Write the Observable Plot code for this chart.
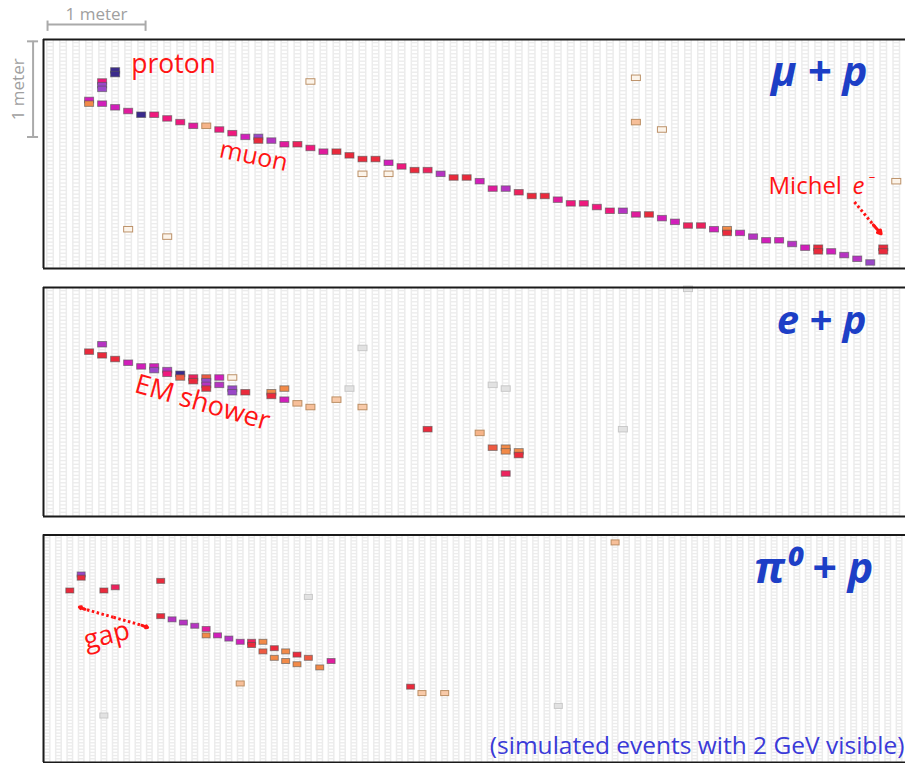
<!DOCTYPE html>
<html><head><meta charset="utf-8">
<script src="https://cdn.jsdelivr.net/npm/d3@7"></script>
<script src="https://cdn.jsdelivr.net/npm/@observablehq/plot@0.6"></script>
<style>
html,body{margin:0;padding:0;background:#fff;overflow:hidden;}
#chart{position:relative;width:905px;height:763px;}
#chart svg{display:block;}
</style></head><body><div id="chart"></div>
<script>
// Each hit: [plane column, cell, charge level]
// charge level: -1 faint, 0 tan, 1 orange, 2 red, 3 pink, 4 magenta, 5 purple, 6 navy
const muHits = [
  [5,8,6],[5,9,6],[4,11,3],[4,12,5],[4,13,5],
  [3,16,4],[3,17,1],
  [4,17,4],[5,18,4],[6,19,3.5],[7,20,6],[8,20,3],[9,21,3],[10,22,3],[11,23,3.5],[12,23,0.6],
  [13,24,3],[14,25,3],[15,26,4],[16,26,5],[16,27,2],[17,27,4.5],[18,28,3.5],[19,28,2.5],
  [20,29,3],[21,30,3.5],[22,30,2],[23,31,2],[24,32,2],[25,32,2],[26,33,4],[27,34,3],
  [28,35,2],[29,35,2.5],[30,36,4.5],[31,37,2],[32,37,2],[33,38,4],[34,40,3.5],[35,40,4.5],
  [36,41,2.5],[37,42,2],[38,42,2],[39,43,3.5],[40,44,3],[41,44,3],[42,45,3],[43,46,3],
  [44,46,4.5],[45,47,3.5],[46,47,2],[47,48,4],[48,49,4],[49,50,2.5],[50,50,2.5],[51,51,4],
  [52,51,1],[52,52,2],[53,52,4],[54,53,4.5],[55,54,4],[56,54,4],[57,55,4.5],[58,56,4],
  [59,56,2],[59,57,2],[60,57,4],[61,58,4.5],[62,59,4.5],[63,60,5],
  [64,56,2],[64,57,2],
  [20,11,0],[6,51,0],[9,53,0],[24,36,0],[26,36,0],[45,10,0],[45,22,0.5],[47,24,0],[65,38,0]
];
const eHits = [
  [3,17,2],[4,15,4.5],[4,18,2],[5,19,2],[6,20,4],[7,21,4],[8,21,4],[8,22,5],
  [9,22,4.5],[9,23,3],[10,23,6],[10,24,1.5],[11,24,2.5],[11,25,2],
  [12,24,1.5],[12,25,5],[12,26,4.5],[12,27,2],[13,24,4],[13,26,4.5],
  [14,24,0],[14,27,5],[14,28,5],[15,28,2],[17,28,1],[17,29,2],[18,27,1],[18,30,4],
  [19,31,0.5],[20,32,0.5],[22,30,0.4],[24,32,0.4],
  [29,38,2],[33,39,0.6],[34,43,1.5],[35,43,1],[35,44,1],[36,44,1],[36,45,2],[35,50,2.5],
  [24,16,-1],[23,27,-1],[34,26,-1],[35,27,-1],[44,38,-1],[49,0,-1]
];
const pi0Hits = [
  [2,17,2],[3,12,5],[3,13,2],[5,17,2],[6,16,2.5],[10,14,2],
  [10,25,2],[11,26,4.5],[12,27,4.5],[13,28,4.5],[14,29,3.5],[14,31,1],[15,31,4],
  [16,32,4.5],[17,33,4],[18,33,2.5],[18,34,2],[19,33,1],[19,36,1.5],[20,35,2],[20,38,1],
  [21,36,1],[21,39,1],[22,37,2],[22,40,1],[23,38,1.5],[24,41,1],[25,39,3.5],
  [17,46,0.5],[50,2,0.5],[32,47,2],[33,49,0.4],[35,49,0.4],
  [23,19,-1],[45,53,-1],[5,56,-1]
];
const chargeLevels = [0, 1, 2, 3, 4, 5, 6];
const chargeColors = ["#fcf4ea", "#f28a48", "#ea2a3c", "#f0197e", "#d21fbb", "#9a48c8", "#3a2a8c"];

const FONT = "'Open Sans', Lato, sans-serif";
const RED = "#ff1414";
const BLUE = "#1d3fc6";

function panel(cfg) {
  const cols = d3.range(cfg.nCols);
  const slots = d3.cross(cols, d3.range(cfg.nCells)).map(([c, r]) => ({c, r}));
  const hits = cfg.hits.map(([c, r, q]) => ({c, r, q}));
  const sIn = (cfg.pitch - cfg.stripW) / 2;
  const wIn = (cfg.pitch - cfg.stripW + 3) / 2;
  const hIn = (cfg.pitch - cfg.hitW) / 2;
  const hitRect = {x1: d => d.c - 0.5, x2: d => d.c + 0.5, y1: d => d.r, y2: d => d.r + 1,
    insetLeft: hIn, insetRight: hIn, insetTop: -0.9, insetBottom: -0.9, strokeWidth: 1};
  return Plot.plot({
    width: 905, height: cfg.height,
    marginLeft: 43, marginRight: 0, marginTop: cfg.marginTop, marginBottom: cfg.marginBottom,
    x: {domain: cfg.xDomain, axis: null},
    y: {domain: [0, cfg.nCells], reverse: true, axis: null},
    color: {type: "linear", domain: chargeLevels, range: chargeColors, interpolate: "rgb"},
    style: {background: "white", overflow: "visible"},
    marks: [
      Plot.rect(cols, {x1: c => c - 0.5, x2: c => c + 0.5, y1: 0, y2: cfg.nCells, insetLeft: sIn, insetRight: sIn, fill: "#ececec"}),
      Plot.rect(slots, {x1: d => d.c - 0.5, x2: d => d.c + 0.5, y1: d => d.r, y2: d => d.r + 1, insetLeft: wIn, insetRight: wIn, insetTop: 0.7, insetBottom: 0.7, fill: "white"}),
      Plot.rect(hits.filter(d => d.q < 0), {...hitRect, fill: "#e2e2e2", stroke: "#c8c8c8"}),
      Plot.rect(hits.filter(d => d.q >= 0 && d.q < 1), {...hitRect, fill: "q", stroke: "#b5865a", strokeOpacity: 0.9}),
      Plot.rect(hits.filter(d => d.q >= 1), {...hitRect, fill: "q", stroke: "#555", strokeOpacity: 0.6}),
      Plot.ruleY([0, cfg.nCells], {stroke: "#1a1a1a", strokeWidth: 2}),
      Plot.ruleX([cfg.xDomain[0]], {stroke: "#1a1a1a", strokeWidth: 2}),
      ...cfg.extra
    ]
  });
}

// Panel 1: mu + p
const muPanel = panel({
  hits: muHits, nCols: 66, nCells: 62, pitch: 13.02, stripW: 8, hitW: 9,
  xDomain: [-0.54, 65.67], height: 277, marginTop: 39, marginBottom: 9,
  extra: [
    // 1 meter scale bars
    Plot.ruleY([{y: -4.06, x1: -0.23, x2: 7.3}], {y: "y", x1: "x1", x2: "x2", stroke: "#aaa", strokeWidth: 2}),
    Plot.ruleX([-0.23, 7.3], {y1: -5.0, y2: -2.2, stroke: "#aaa", strokeWidth: 2}),
    Plot.text(["1 meter"], {x: 3.53, y: -5.2, lineAnchor: "bottom", fontSize: 17, fill: "#a0a0a0", fontFamily: FONT}),
    Plot.ruleX([{x: -1.34, y1: 0.5, y2: 26.4}], {x: "x", y1: "y1", y2: "y2", stroke: "#aaa", strokeWidth: 2}),
    Plot.ruleY([0.5, 26.4], {x1: -1.77, x2: -0.92, stroke: "#aaa", strokeWidth: 2}),
    Plot.text(["1 meter"], {x: -2.45, y: 13.5, rotate: -90, fontSize: 17, fill: "#a0a0a0", fontFamily: FONT}),
    // labels
    Plot.text(["proton"], {x: 6.2, y: 9.0, textAnchor: "start", lineAnchor: "bottom", fontSize: 26.5, fill: RED, fontFamily: FONT}),
    Plot.text(["muon"], {x: 15.6, y: 31.6, rotate: 12, fontSize: 25, fill: RED, fontFamily: FONT}),
    Plot.text(["Michel"], {x: 55.15, y: 41.7, textAnchor: "start", lineAnchor: "bottom", fontSize: 24, fill: RED, fontFamily: FONT}),
    Plot.text(["e"], {x: 61.6, y: 41.7, textAnchor: "start", lineAnchor: "bottom", fontSize: 24, fontStyle: "italic", fill: RED, fontFamily: FONT}),
    Plot.text(["\u2013"], {x: 62.85, y: 38.4, textAnchor: "start", lineAnchor: "bottom", fontSize: 13, fill: RED, fontFamily: FONT}),
    Plot.link([{x1: 61.75, y1: 44.0, x2: 63.3, y2: 50.6}], {x1: "x1", y1: "y1", x2: "x2", y2: "y2", stroke: RED, strokeWidth: 3, strokeDasharray: "2.5,2.5"}),
    Plot.arrow([{x1: 63.2, y1: 50.2, x2: 63.8, y2: 52.6}], {x1: "x1", y1: "y1", x2: "x2", y2: "y2", stroke: RED, strokeWidth: 3, headLength: 9}),
    Plot.text(["\u03bc + p"], {x: 62.75, y: 12.6, textAnchor: "end", lineAnchor: "bottom", fontSize: 42, fontWeight: "bold", fontStyle: "italic", fill: BLUE, fontFamily: FONT})
  ]
});

// Panel 2: e + p
const ePanel = panel({
  hits: eHits, nCols: 66, nCells: 62, pitch: 13.02, stripW: 8, hitW: 9,
  xDomain: [-0.54, 65.67], height: 248, marginTop: 10, marginBottom: 9,
  extra: [
    Plot.text(["EM shower"], {x: 11.67, y: 31.2, rotate: 16, fontSize: 27, fill: RED, fontFamily: FONT}),
    Plot.text(["e + p"], {x: 62.67, y: 12.5, textAnchor: "end", lineAnchor: "bottom", fontSize: 40, fontWeight: "bold", fontStyle: "italic", fill: BLUE, fontFamily: FONT})
  ]
});

// Panel 3: pi0 + p
const piPanel = panel({
  hits: pi0Hits, nCols: 76, nCells: 71, pitch: 11.36, stripW: 7, hitW: 8,
  xDomain: [-0.36, 75.52], height: 238, marginTop: 9.4, marginBottom: 1,
  extra: [
    Plot.text(["gap"], {x: 5.2, y: 31.4, rotate: -14, fontSize: 27, fill: RED, fontFamily: FONT}),
    Plot.link([{x1: 5.8, y1: 25.7, x2: 3.2, y2: 23.1}, {x1: 5.8, y1: 25.7, x2: 8.4, y2: 28.3}], {x1: "x1", y1: "y1", x2: "x2", y2: "y2", stroke: RED, strokeWidth: 3, strokeDasharray: "2.5,2.5"}),
    Plot.arrow([{x1: 3.3, y1: 23.2, x2: 2.8, y2: 22.5}, {x1: 8.3, y1: 28.2, x2: 8.8, y2: 28.9}], {x1: "x1", y1: "y1", x2: "x2", y2: "y2", stroke: RED, strokeWidth: 3, headLength: 9}),
    Plot.text(["\u03c0\u2070 + p"], {x: 72.7, y: 15.1, textAnchor: "end", lineAnchor: "bottom", fontSize: 43, fontWeight: "bold", fontStyle: "italic", fill: BLUE, fontFamily: FONT}),
    Plot.text(["(simulated events with 2 GeV visible)"], {x: 75.43, y: 68.2, textAnchor: "end", lineAnchor: "bottom", fontSize: 24.5, fill: "#3a3ad8", fontFamily: FONT})
  ]
});

const root = document.getElementById("chart");
root.append(muPanel, ePanel, piPanel);
</script>
</body></html>
